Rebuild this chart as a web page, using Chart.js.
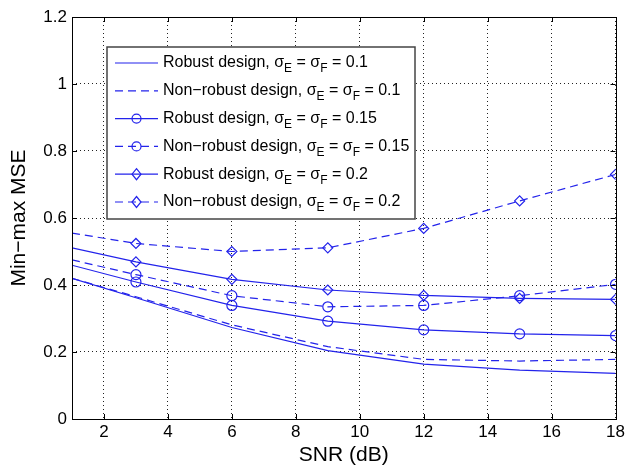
<!DOCTYPE html>
<html>
<head>
<meta charset="utf-8">
<script src="https://cdn.jsdelivr.net/npm/chart.js@4/dist/chart.umd.min.js"></script>
<style>
  html, body { margin: 0; padding: 0; background: #fff; }
  #wrap { width: 628px; height: 468px; }
</style>
</head>
<body>
<div id="wrap"><canvas id="mseChart"></canvas></div>
<script>
// Dados
const SNR_DB = [1, 3, 6, 9, 12, 15, 18];
const X_TICKS = [2, 4, 6, 8, 10, 12, 14, 16, 18];
const Y_TICKS = [0, 0.2, 0.4, 0.6, 0.8, 1, 1.2];

const robust01     = [0.420, 0.362, 0.273, 0.204, 0.164, 0.146, 0.136];
const nonRobust01  = [0.420, 0.365, 0.281, 0.216, 0.178, 0.173, 0.178];
const robust015    = [0.459, 0.409, 0.339, 0.292, 0.266, 0.254, 0.249];
const nonRobust015 = [0.475, 0.431, 0.368, 0.335, 0.339, 0.368, 0.402];
const robust02     = [0.511, 0.469, 0.417, 0.385, 0.369, 0.360, 0.357];
const nonRobust02  = [0.555, 0.524, 0.500, 0.511, 0.569, 0.651, 0.730];

const SERIES_NAMES = [
    ['Robust design, σ', 'E', ' = σ', 'F', ' = 0.1'],
    ['Non\u2212robust design, σ', 'E', ' = σ', 'F', ' = 0.1'],
    ['Robust design, σ', 'E', ' = σ', 'F', ' = 0.15'],
    ['Non\u2212robust design, σ', 'E', ' = σ', 'F', ' = 0.15'],
    ['Robust design, σ', 'E', ' = σ', 'F', ' = 0.2'],
    ['Non\u2212robust design, σ', 'E', ' = σ', 'F', ' = 0.2']
];

const BLUE = 'rgb(35, 35, 235)';
const DASH = [8, 5];
const FONT = '"Liberation Sans", Arial, sans-serif';

function makeSeries(values, dashed, marker) {
    return {
        data: SNR_DB.map((x, i) => ({ x: x, y: values[i] })),
        borderColor: BLUE,
        backgroundColor: 'rgba(0,0,0,0)',
        borderWidth: 1.2,
        borderDash: dashed ? DASH : [],
        pointStyle: marker || false,
        pointRadius: marker ? SNR_DB.map(x => x === 1 ? 0 : 5) : 0,
        pointBorderColor: BLUE,
        pointBackgroundColor: 'rgba(0,0,0,0)',
        pointBorderWidth: 1.2,
        tension: 0,
        fill: false,
        _marker: marker || null
    };
}

// Caixa, marcas internas e legenda com subscritos
const matlabDecor = {
    id: 'matlabDecor',
    afterDraw(chart) {
        const ctx = chart.ctx;
        const a = chart.chartArea;
        const xs = chart.scales.x, ys = chart.scales.y;
        ctx.save();
        ctx.strokeStyle = '#000';
        ctx.lineWidth = 1;
        ctx.setLineDash([]);
        ctx.beginPath();
        X_TICKS.forEach(v => {
            const px = Math.round(xs.getPixelForValue(v)) + 0.5;
            ctx.moveTo(px, a.bottom); ctx.lineTo(px, a.bottom - 5);
            ctx.moveTo(px, a.top); ctx.lineTo(px, a.top + 5);
        });
        Y_TICKS.forEach(v => {
            const py = Math.round(ys.getPixelForValue(v)) + 0.5;
            ctx.moveTo(a.left, py); ctx.lineTo(a.left + 5, py);
            ctx.moveTo(a.right, py); ctx.lineTo(a.right - 5, py);
        });
        ctx.stroke();
        ctx.strokeRect(Math.round(a.left) + 0.5, Math.round(a.top) + 0.5,
            Math.round(a.right - a.left), Math.round(a.bottom - a.top));

        // Legenda
        const bx = 107, by = 47, bw = 308, bh = 172;
        ctx.fillStyle = '#fff';
        ctx.fillRect(bx, by, bw, bh);
        ctx.strokeStyle = '#444';
        ctx.lineWidth = 1.5;
        ctx.strokeRect(bx, by, bw, bh);

        chart.data.datasets.forEach((ds, i) => {
            const cy = 63 + i * 27.8;
            ctx.strokeStyle = BLUE;
            ctx.lineWidth = 1.2;
            ctx.setLineDash(ds.borderDash);
            ctx.beginPath();
            ctx.moveTo(115, cy); ctx.lineTo(158, cy);
            ctx.stroke();
            ctx.setLineDash([]);
            const mx = 136.5;
            if (ds._marker === 'circle') {
                ctx.beginPath();
                ctx.arc(mx, cy, 4.5, 0, Math.PI * 2);
                ctx.stroke();
            } else if (ds._marker === 'rectRot') {
                ctx.beginPath();
                ctx.moveTo(mx, cy - 5.5); ctx.lineTo(mx + 4.5, cy);
                ctx.lineTo(mx, cy + 5.5); ctx.lineTo(mx - 4.5, cy);
                ctx.closePath();
                ctx.stroke();
            }
            // texto com subscritos
            const parts = SERIES_NAMES[i];
            let tx = 163;
            ctx.fillStyle = '#000';
            ctx.textBaseline = 'middle';
            ctx.textAlign = 'left';
            parts.forEach((p, k) => {
                const sub = k % 2 === 1;
                ctx.font = (sub ? '12px ' : '16px ') + FONT;
                ctx.fillText(p, tx, sub ? cy + 6 : cy);
                tx += ctx.measureText(p).width;
            });
        });
        ctx.restore();
    }
};

const ctx = document.getElementById('mseChart').getContext('2d');
const mseChart = new Chart(ctx, {
    type: 'line',
    data: {
        datasets: [
            makeSeries(robust01, false, null),
            makeSeries(nonRobust01, true, null),
            makeSeries(robust015, false, 'circle'),
            makeSeries(nonRobust015, true, 'circle'),
            makeSeries(robust02, false, 'rectRot'),
            makeSeries(nonRobust02, true, 'rectRot')
        ]
    },
    options: {
        responsive: true,
        maintainAspectRatio: false,
        animation: false,
        layout: { padding: { top: 17, right: 11, left: 0, bottom: 0 } },
        plugins: {
            legend: { display: false },
            tooltip: { enabled: false }
        },
        scales: {
            x: {
                type: 'linear',
                min: 1,
                max: 18,
                afterBuildTicks: s => { s.ticks = X_TICKS.map(v => ({ value: v })); },
                afterFit: s => { s.height = 49; },
                border: { display: false, dash: [1, 3] },
                grid: { color: '#222', drawTicks: false, lineWidth: 1 },
                ticks: { color: '#000', font: { family: FONT, size: 17 }, padding: 3, maxRotation: 0 },
                title: { display: true, text: 'SNR (dB)', color: '#000', font: { family: FONT, size: 21 }, padding: { top: 0, bottom: 0 } }
            },
            y: {
                min: 0,
                max: 1.2,
                afterBuildTicks: s => { s.ticks = Y_TICKS.map(v => ({ value: v })); },
                afterFit: s => { s.width = 72; },
                border: { display: false, dash: [1, 3] },
                grid: { color: '#222', drawTicks: false, lineWidth: 1 },
                ticks: {
                    color: '#000',
                    font: { family: FONT, size: 17 },
                    padding: 5,
                    callback: v => String(Number(v.toFixed(1)))
                },
                title: { display: true, text: 'Min\u2212max MSE', color: '#000', font: { family: FONT, size: 21 }, padding: { top: 7, bottom: 0 } }
            }
        }
    },
    plugins: [matlabDecor]
});
</script>
</body>
</html>
